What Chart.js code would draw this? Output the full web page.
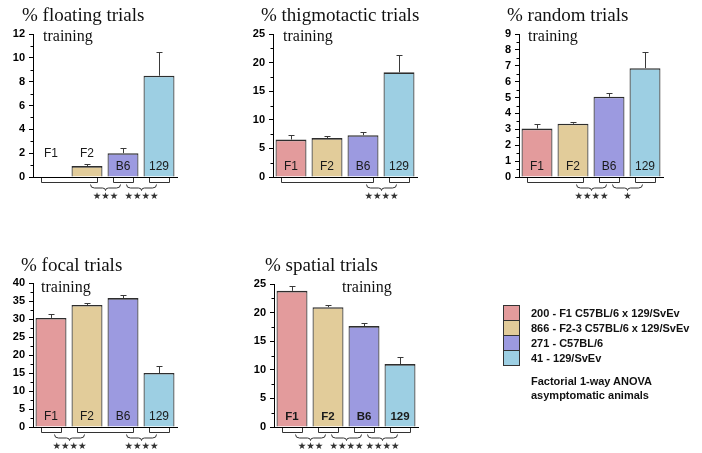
<!DOCTYPE html>
<html>
<head>
<meta charset="utf-8">
<script src="https://cdn.jsdelivr.net/npm/chart.js@4.4.1/dist/chart.umd.min.js"></script>
<style>
  html, body { margin: 0; padding: 0; background: #fff; }
  #page { position: relative; width: 702px; height: 453px; overflow: hidden; background: #fff; }
  #page canvas { position: absolute; left: 0; top: 0; }
  .txt { position: absolute; white-space: nowrap; color: #111; }
  .title { font-family: "Liberation Serif", "Times New Roman", serif; font-size: 19px; line-height: 19px; }
  .sub { font-family: "Liberation Serif", "Times New Roman", serif; font-size: 16px; line-height: 16px; }
  .leg { font-family: "Liberation Sans", Arial, sans-serif; font-weight: bold; font-size: 11px; line-height: 11px; color: #111; }
  .sw { position: absolute; width: 15px; height: 14px; border: 1px solid #333; }
</style>
</head>
<body>
<div id="page"></div>
<script>
// Strains (bar order) and their colours
const strains = ['F1', 'F2', 'B6', '129'];
const strainColors = ['#E39B9C', '#E2CC9A', '#9C9AE0', '#9DCFE3'];
const legendLabels = ['200 - F1 C57BL/6 x 129/SvEv', '866 - F2-3 C57BL/6 x 129/SvEv', '271 - C57BL/6', '41 - 129/SvEv'];
const noteLines = ['Factorial 1-way ANOVA', 'asymptomatic animals'];

// % of training trials per search strategy: mean and SEM per strain
const floatingMean = [0, 0.92, 2.0, 8.5];
const floatingSem = [0, 0.17, 0.42, 1.95];
const thigmoMean = [6.55, 6.8, 7.3, 18.3];
const thigmoSem = [0.76, 0.45, 0.52, 2.95];
const randomMean = [3.05, 3.35, 5.05, 6.85];
const randomSem = [0.31, 0.13, 0.25, 1.0];
const focalMean = [30.3, 33.9, 35.8, 15.0];
const focalSem = [1.2, 0.6, 0.9, 2.0];
const spatialMean = [23.8, 20.95, 17.65, 11.0];
const spatialSem = [0.9, 0.3, 0.55, 1.2];

// Post-hoc groupings (bar indices) and significance between neighbouring groups
const floatingGroups = [[0, 1], [2], [3]];
const floatingSig = ['***', '****'];
const thigmoGroups = [[0, 1, 2], [3]];
const thigmoSig = ['****'];
const randomGroups = [[0, 1], [2], [3]];
const randomSig = ['****', '*'];
const focalGroups = [[0], [1, 2], [3]];
const focalSig = ['****', '****'];
const spatialGroups = [[0], [1], [2], [3]];
const spatialSig = ['***', '****', '****'];

// Y-axis ranges: [max, major step, minor step]
const floatingAxis = [12, 2, 1];
const thigmoAxis = [25, 5, 2.5];
const randomAxis = [9, 1, 0.5];
const focalAxis = [40, 5, 2.5];
const spatialAxis = [25, 5, 2.5];

const W = 702, H = 453, YW = 30;
const page = document.getElementById('page');

Chart.defaults.font.family = '"Liberation Sans", Arial, sans-serif';

const panels = [
  { title: '% floating trials', mean: floatingMean, sem: floatingSem, axis: floatingAxis, groups: floatingGroups, sig: floatingSig,
    area: { l: 33, r: 177, t: 34, b: 177 }, titlePos: [22, 21], subPos: [43, 41], boldLabels: false },
  { title: '% thigmotactic trials', mean: thigmoMean, sem: thigmoSem, axis: thigmoAxis, groups: thigmoGroups, sig: thigmoSig,
    area: { l: 273, r: 417, t: 34, b: 177 }, titlePos: [261, 21], subPos: [283, 41], boldLabels: false },
  { title: '% random trials', mean: randomMean, sem: randomSem, axis: randomAxis, groups: randomGroups, sig: randomSig,
    area: { l: 519, r: 663, t: 34, b: 177 }, titlePos: [507, 21], subPos: [528, 41], boldLabels: false },
  { title: '% focal trials', mean: focalMean, sem: focalSem, axis: focalAxis, groups: focalGroups, sig: focalSig,
    area: { l: 33, r: 177, t: 283, b: 427 }, titlePos: [21, 271], subPos: [41, 292], boldLabels: false },
  { title: '% spatial trials', mean: spatialMean, sem: spatialSem, axis: spatialAxis, groups: spatialGroups, sig: spatialSig,
    area: { l: 274, r: 418, t: 284, b: 427 }, titlePos: [265, 271], subPos: [342, 292], boldLabels: true }
];

// Places a text line so that its baseline sits at y (line-height equals font size)
function placeText(text, cls, x, baseline, fs, ascent, descent) {
  const d = document.createElement('div');
  d.className = 'txt ' + cls;
  d.textContent = text;
  const off = fs * ((1 - (ascent + descent)) / 2 + ascent);
  d.style.left = x + 'px';
  d.style.top = (baseline - off) + 'px';
  page.appendChild(d);
  return d;
}

// Error bars, bar labels, minor ticks, group brackets and significance braces
const annotate = {
  id: 'annotate',
  afterDatasetsDraw(chart) {
    const spec = chart.options.plugins.annotate;
    const ctx = chart.ctx;
    const xs = chart.scales.x, ys = chart.scales.y;
    const meta = chart.getDatasetMeta(0);
    const ds = chart.data.datasets[0];
    const area = chart.chartArea;
    const y0 = ys.getPixelForValue(0);
    const [max, step, minor] = spec.axis;
    ctx.save();

    // minor ticks on the y axis
    ctx.strokeStyle = '#000';
    ctx.lineWidth = 1;
    for (let v = minor; v < max; v += minor) {
      const r = v / step;
      if (Math.abs(r - Math.round(r)) < 1e-6) continue;
      const py = Math.round(ys.getPixelForValue(v)) + 0.5;
      ctx.beginPath();
      ctx.moveTo(area.left - 2.5, py);
      ctx.lineTo(area.left, py);
      ctx.stroke();
    }

    // SEM error bars (upper half)
    ctx.strokeStyle = '#3a3a3a';
    ds.data.forEach((m, i) => {
      const s = ds.sem[i];
      if (!s) return;
      const bar = meta.data[i];
      const cx = Math.round(bar.x) + 0.5;
      const top = ys.getPixelForValue(m);
      const hi = Math.round(ys.getPixelForValue(m + s)) + 0.5;
      ctx.beginPath();
      ctx.moveTo(cx, top);
      ctx.lineTo(cx, hi);
      ctx.moveTo(cx - 3, hi);
      ctx.lineTo(cx + 3, hi);
      ctx.stroke();
    });

    // strain labels at the foot of each bar
    ctx.fillStyle = '#1a1a1a';
    ctx.textAlign = 'center';
    ctx.textBaseline = 'alphabetic';
    ctx.font = (spec.boldLabels ? 'bold 11.5px ' : '12px ') + '"Liberation Sans", Arial, sans-serif';
    chart.data.labels.forEach((lab, i) => {
      const bar = meta.data[i];
      const hgt = y0 - ys.getPixelForValue(ds.data[i]);
      const by = hgt >= 18 ? y0 - 7.5 : y0 - 20;
      ctx.fillText(lab, bar.x, by);
    });

    // brackets under each group of bars
    ctx.strokeStyle = '#333';
    ctx.lineWidth = 1;
    const yb = Math.round(y0 + 5) + 0.5;
    spec.groups.forEach(g => {
      const a = meta.data[g[0]], b = meta.data[g[g.length - 1]];
      const l = Math.round(a.x - a.width / 2 + 5) + 0.5;
      const r = Math.round(b.x + b.width / 2 - 5) + 0.5;
      ctx.beginPath();
      ctx.moveTo(l, y0 + 1);
      ctx.lineTo(l, yb);
      ctx.lineTo(r, yb);
      ctx.lineTo(r, y0 + 1);
      ctx.stroke();
    });

    // braces joining neighbouring groups, with stars beneath
    ctx.fillStyle = '#333';
    ctx.font = '9.5px "DejaVu Sans", sans-serif';
    ctx.textBaseline = 'middle';
    spec.sig.forEach((s, k) => {
      const g = spec.groups[k];
      const xc = Math.round(xs.getPixelForValue(g[g.length - 1] + 0.5)) + 0.5;
      const x1 = xc - 15, x2 = xc + 15;
      const ya = y0 + 7.5, yl = y0 + 11;
      ctx.beginPath();
      ctx.moveTo(x1, ya);
      ctx.quadraticCurveTo(x1, yl, x1 + 4, yl);
      ctx.lineTo(xc - 3, yl);
      ctx.quadraticCurveTo(xc, yl, xc, yl + 2.5);
      ctx.quadraticCurveTo(xc, yl, xc + 3, yl);
      ctx.lineTo(x2 - 4, yl);
      ctx.quadraticCurveTo(x2, yl, x2, ya);
      ctx.stroke();
      ctx.fillText('\u2605'.repeat(s.length), xc, y0 + 19.5);
    });
    ctx.restore();
  }
};

panels.forEach(p => {
  const cv = document.createElement('canvas');
  cv.width = W; cv.height = H;
  cv.style.width = W + 'px'; cv.style.height = H + 'px';
  page.appendChild(cv);
  const [max, step] = p.axis;
  new Chart(cv, {
    type: 'bar',
    data: {
      labels: strains,
      datasets: [{
        data: p.mean,
        sem: p.sem,
        backgroundColor: strainColors,
        borderColor: '#2e2e2e',
        borderWidth: { top: 1.6, left: 1.2, right: 1.2, bottom: 0 },
        borderSkipped: 'start',
        categoryPercentage: 1,
        barPercentage: 0.86
      }]
    },
    options: {
      responsive: false,
      animation: false,
      events: [],
      layout: { padding: { left: p.area.l - YW, right: W - p.area.r, top: p.area.t, bottom: H - p.area.b } },
      plugins: {
        legend: { display: false },
        tooltip: { enabled: false },
        annotate: { axis: p.axis, groups: p.groups, sig: p.sig, boldLabels: p.boldLabels }
      },
      scales: {
        x: {
          offset: true,
          grid: { display: false },
          border: { display: true, color: '#000', width: 1 },
          ticks: { display: false },
          afterFit(s) { s.height = 0; s.paddingLeft = 0; s.paddingRight = 0; }
        },
        y: {
          min: 0, max: max,
          grid: { drawOnChartArea: false, drawTicks: true, tickLength: 4, color: '#000', lineWidth: 1 },
          border: { display: true, color: '#000', width: 1 },
          ticks: { stepSize: step, autoSkip: false, padding: 4, color: '#000', font: { size: 11, weight: 'bold' } },
          afterFit(s) { s.width = YW; s.paddingTop = 0; s.paddingBottom = 0; }
        }
      }
    },
    plugins: [annotate]
  });
  placeText(p.title, 'title', p.titlePos[0], p.titlePos[1], 19, 0.891, 0.216);
  placeText('training', 'sub', p.subPos[0], p.subPos[1], 16, 0.891, 0.216);
});

// Legend swatches and labels
legendLabels.forEach((lab, i) => {
  const sw = document.createElement('div');
  sw.className = 'sw';
  sw.style.left = '503px';
  sw.style.top = (305 + i * 15) + 'px';
  sw.style.background = strainColors[i];
  page.appendChild(sw);
  placeText(lab, 'leg', 531, 317 + i * 15, 11, 0.905, 0.212);
});
noteLines.forEach((t, i) => placeText(t, 'leg', 531, 385 + i * 14.5, 11, 0.905, 0.212));
</script>
</body>
</html>
